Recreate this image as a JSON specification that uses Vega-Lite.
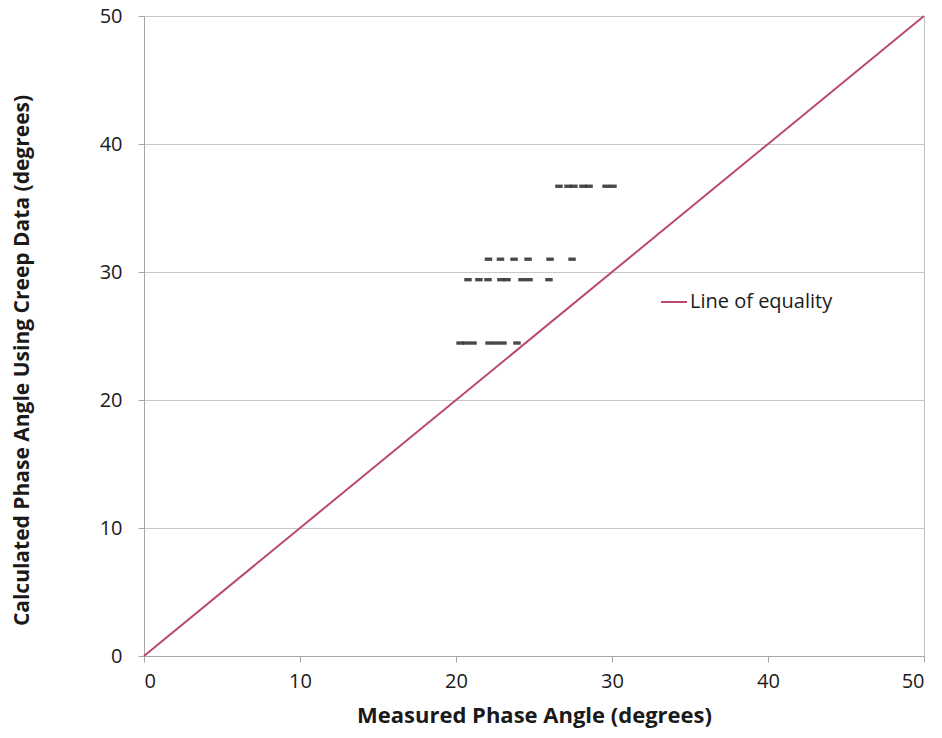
{
  "$schema": "https://vega.github.io/schema/vega-lite/v6.json",
  "width": 780,
  "height": 640,
  "autosize": {"type": "none"},
  "padding": {"left": 144, "top": 16, "right": 18, "bottom": 82},
  "background": "white",
  "config": {
    "font": "Open Sans",
    "view": {"stroke": "#bfbfbf", "strokeWidth": 1},
    "axis": {
      "labelFont": "Open Sans",
      "labelFontSize": 20,
      "labelColor": "#1a1a1a",
      "titleFont": "Open Sans",
      "titleFontSize": 21,
      "titleFontWeight": "bold",
      "titleColor": "#1a1a1a",
      "domainColor": "#a6a6a6",
      "tickColor": "#a6a6a6",
      "gridColor": "#c8c8c8",
      "tickSize": 6
    }
  },
  "datasets": {
    "eq": [
      {"measured": 0, "calculated": 0, "series": "Line of equality"},
      {"measured": 50, "calculated": 50, "series": "Line of equality"}
    ],
    "pts": [
      {"measured": 26.6, "calculated": 36.7},
      {"measured": 27.18, "calculated": 36.7},
      {"measured": 27.56, "calculated": 36.7},
      {"measured": 28.14, "calculated": 36.7},
      {"measured": 28.53, "calculated": 36.7},
      {"measured": 29.62, "calculated": 36.7},
      {"measured": 30.06, "calculated": 36.7},
      {"measured": 22.08, "calculated": 31.0},
      {"measured": 22.85, "calculated": 31.0},
      {"measured": 23.72, "calculated": 31.0},
      {"measured": 24.62, "calculated": 31.0},
      {"measured": 26.03, "calculated": 31.0},
      {"measured": 27.44, "calculated": 31.0},
      {"measured": 20.77, "calculated": 29.4},
      {"measured": 21.47, "calculated": 29.4},
      {"measured": 22.05, "calculated": 29.4},
      {"measured": 22.88, "calculated": 29.4},
      {"measured": 23.27, "calculated": 29.4},
      {"measured": 24.23, "calculated": 29.4},
      {"measured": 24.68, "calculated": 29.4},
      {"measured": 25.96, "calculated": 29.4},
      {"measured": 20.26, "calculated": 24.45},
      {"measured": 20.64, "calculated": 24.45},
      {"measured": 21.09, "calculated": 24.45},
      {"measured": 22.12, "calculated": 24.45},
      {"measured": 22.56, "calculated": 24.45},
      {"measured": 23.01, "calculated": 24.45},
      {"measured": 23.91, "calculated": 24.45}
    ]
  },
  "layer": [
    {
      "data": {"name": "pts"},
      "mark": {
        "type": "point",
        "shape": "M-1,-0.45L1,-0.45L1,0.45L-1,0.45Z",
        "filled": true,
        "size": 56,
        "color": "#353535",
        "opacity": 0.9
      },
      "encoding": {
        "x": {"field": "measured", "type": "quantitative"},
        "y": {"field": "calculated", "type": "quantitative"}
      }
    },
    {
      "data": {"name": "eq"},
      "mark": {"type": "line", "strokeWidth": 2},
      "encoding": {
        "x": {
          "field": "measured",
          "type": "quantitative",
          "scale": {"domain": [0, 50], "nice": false},
          "axis": {
            "title": "Measured Phase Angle (degrees)",
            "titleFontSize": 22,
            "values": [0, 10, 20, 30, 40, 50],
            "grid": false,
            "labelPadding": 9,
            "titlePadding": 14
          }
        },
        "y": {
          "field": "calculated",
          "type": "quantitative",
          "scale": {"domain": [0, 50], "nice": false},
          "axis": {
            "title": "Calculated Phase Angle Using Creep Data (degrees)",
            "values": [0, 10, 20, 30, 40, 50],
            "grid": true,
            "labelPadding": 16,
            "titleX": -122,
            "titleY": 344,
            "titleBaseline": "middle",
            "titleAlign": "center",
            "titleAngle": -90
          }
        },
        "color": {
          "field": "series",
          "type": "nominal",
          "scale": {"range": ["#b94a6a"]},
          "legend": {
            "title": null,
            "orient": "none",
            "legendX": 516,
            "legendY": 272,
            "symbolType": "stroke",
            "symbolSize": 676,
            "symbolStrokeWidth": 2,
            "labelFont": "Open Sans",
            "labelFontSize": 20,
            "labelColor": "#1a1a1a",
            "labelOffset": 2
          }
        }
      }
    }
  ]
}
